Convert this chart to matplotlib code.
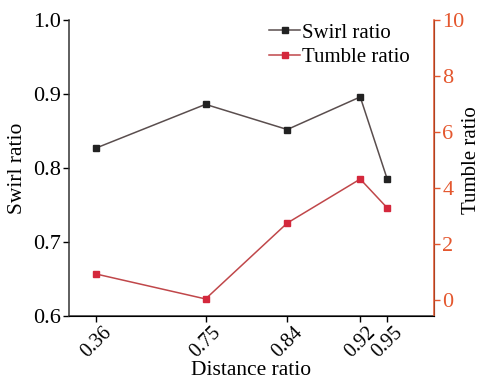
import matplotlib
matplotlib.use("Agg")
import matplotlib.pyplot as plt

# data
distance_labels = ["0.36", "0.75", "0.84", "0.92", "0.95"]
# horizontal positions of the categories (axis spans 0..1, spacing as in the picture)
x_pos = [0.074, 0.374, 0.598, 0.798, 0.872]
swirl = [0.827, 0.886, 0.852, 0.896, 0.785]
tumble = [0.93, 0.04, 2.75, 4.32, 3.29]

plt.rcParams["font.family"] = ["Liberation Serif", "DejaVu Serif"]
plt.rcParams["font.size"] = 15

ORANGE = "#e4572e"

fig, ax = plt.subplots(figsize=(4.8, 3.84), dpi=100)
fig.subplots_adjust(left=0.144, right=0.904, top=0.948, bottom=0.177)

l1, = ax.plot(x_pos, swirl, color="#5a4e4e", linewidth=1.1, marker="s",
              markersize=4, markerfacecolor="#222222", markeredgecolor="#222222",
              label="Swirl ratio")
ax.set_xlim(0, 1)
ax.set_ylim(0.6, 1.0)
ax.set_yticks([0.6, 0.7, 0.8, 0.9, 1.0])
ax.set_xticks(x_pos)
ax.set_xticklabels(distance_labels, rotation=45, fontsize=14.5)
ax.tick_params(axis="y", labelsize=16, pad=2)
ax.tick_params(axis="x", pad=1)
ax.set_xlabel("Distance ratio", fontsize=15.5, labelpad=0)
ax.set_ylabel("Swirl ratio", fontsize=15.5, labelpad=4)
ax.spines["top"].set_visible(False)
ax.tick_params(direction="out", length=4, width=1)
for s in ["left", "bottom"]:
    ax.spines[s].set_linewidth(1.1)
    ax.spines[s].set_color("#333333")

ax2 = ax.twinx()
l2, = ax2.plot(x_pos, tumble, color="#c0474a", linewidth=1.1, marker="s",
               markersize=4, markerfacecolor="#d4283c", markeredgecolor="#d4283c",
               label="Tumble ratio")
ax2.set_ylim(-0.57, 10)
ax2.set_yticks([0, 2, 4, 6, 8, 10])
ax2.set_ylabel("Tumble ratio", fontsize=15)
ax2.yaxis.set_label_coords(1.077, 0.527)
ax2.spines["top"].set_visible(False)
ax2.spines["left"].set_visible(False)
ax2.spines["right"].set_color(ORANGE)
ax2.spines["right"].set_linewidth(1.1)
ax2.tick_params(axis="y", colors=ORANGE, direction="out", length=4, width=1,
                labelsize=16, pad=2)

ax.legend(handles=[l1, l2], loc="upper left", bbox_to_anchor=(0.548, 0.99),
          frameon=False, fontsize=15, handlelength=1.5, handletextpad=0.1,
          borderpad=0, borderaxespad=0, labelspacing=0.25)

fig.savefig("out.png", dpi=100)
